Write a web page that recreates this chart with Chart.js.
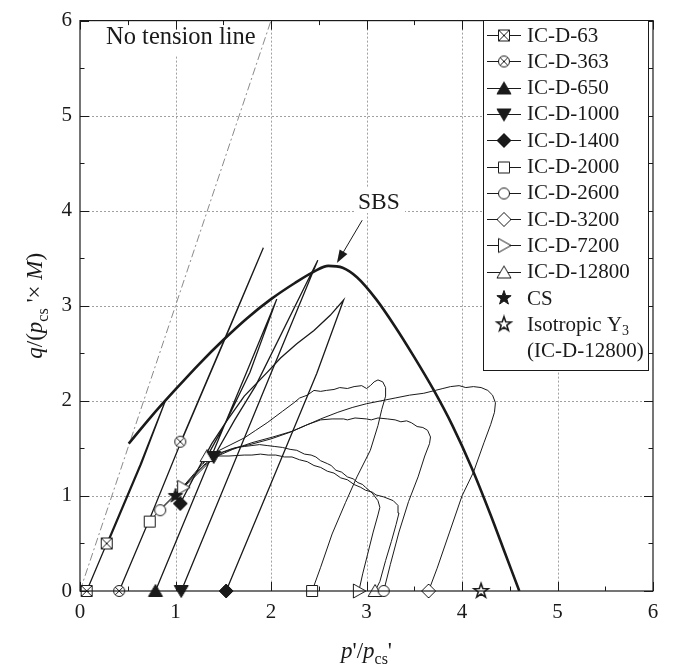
<!DOCTYPE html>
<html>
<head>
<meta charset="utf-8">
<script src="https://cdn.jsdelivr.net/npm/chart.js@4.4.1/dist/chart.umd.min.js"></script>
<style>
  html, body { margin: 0; padding: 0; background: #fff; }
</style>
</head>
<body>
<canvas id="stressPathChart" width="674" height="668"></canvas>
<script>
// ---- data: p'/pcs' , q/(pcs' x M) ----
const testLabels = ["IC-D-63", "IC-D-363", "IC-D-650", "IC-D-1000", "IC-D-1400",
  "IC-D-2000", "IC-D-2600", "IC-D-3200", "IC-D-7200", "IC-D-12800"];
const testMarkers = ["squareX", "circleX", "triUp", "triDown", "diamond",
  "square", "circle", "diamondOpen", "triRight", "triUpOpen"];

const path63 = [[0.07, 0], [0.28, 0.5], [0.63, 1.33], [0.89, 1.99], [0.645, 1.34], [0.295, 0.51]];
const path363 = [[0.41, 0], [0.73, 0.76], [1.05, 1.55], [1.5, 2.61], [1.92, 3.61], [1.505, 2.63], [1.06, 1.58]];
const path650 = [[0.79, 0], [1.34, 1.33], [1.74, 2.29], [2.06, 3.07], [1.78, 2.3], [1.52, 1.76], [1.29, 1.34]];
const path1000 = [[1.06, 0], [1.5, 1.07], [2.0, 2.29], [2.49, 3.48], [1.84, 2.16], [1.62, 1.8], [1.4, 1.41]];
const path1400 = [[1.53, 0], [2.0, 1.13], [2.48, 2.29], [2.76, 3.06], [2.62, 2.9], [2.45, 2.74],
  [2.27, 2.6], [2.1, 2.45], [1.96, 2.3], [1.72, 2.05], [1.53, 1.78], [1.38, 1.55], [1.22, 1.25], [1.05, 0.92]];
const path2000 = [[2.43, 0], [2.52, 0.25], [2.64, 0.6], [2.78, 0.93], [2.9, 1.2], [3.04, 1.48], [3.12, 1.74],
  [3.16, 1.91], [3.2, 2.05], [3.2, 2.14], [3.17, 2.2], [3.12, 2.22], [3.08, 2.2], [3.04, 2.16], [3.0, 2.13],
  [2.95, 2.16], [2.87, 2.15], [2.8, 2.13], [2.72, 2.14], [2.66, 2.12], [2.58, 2.11], [2.52, 2.1], [2.45, 2.11],
  [2.38, 2.06], [2.3, 2.03], [2.24, 1.98], [2.12, 1.89], [1.96, 1.77], [1.84, 1.69], [1.72, 1.61], [1.58, 1.54],
  [1.44, 1.47], [1.32, 1.38], [1.2, 1.24], [1.08, 1.1], [0.98, 1.0], [0.84, 0.86], [0.73, 0.73]];
const path2600 = [[3.18, 0], [3.25, 0.28], [3.34, 0.62], [3.44, 0.94], [3.54, 1.2], [3.61, 1.42], [3.66, 1.55],
  [3.67, 1.62], [3.64, 1.69], [3.59, 1.72], [3.53, 1.73], [3.47, 1.77], [3.42, 1.79], [3.36, 1.78], [3.3, 1.8],
  [3.22, 1.81], [3.12, 1.82], [3.05, 1.8], [3.0, 1.81], [2.88, 1.82], [2.8, 1.8], [2.76, 1.81], [2.64, 1.81],
  [2.52, 1.8], [2.38, 1.75], [2.22, 1.68], [2.02, 1.62], [1.8, 1.56], [1.6, 1.49], [1.44, 1.42], [1.3, 1.32],
  [1.16, 1.18], [1.02, 1.03], [0.84, 0.85]];
const path3200 = [[3.65, 0], [3.74, 0.24], [3.87, 0.62], [4.0, 1.0], [4.12, 1.25], [4.23, 1.56], [4.3, 1.75],
  [4.34, 1.88], [4.35, 1.98], [4.32, 2.06], [4.27, 2.11], [4.2, 2.14], [4.12, 2.15], [4.04, 2.14], [3.97, 2.16],
  [3.88, 2.15], [3.8, 2.13], [3.72, 2.11], [3.6, 2.08], [3.45, 2.06], [3.3, 2.03], [3.15, 2.0], [3.0, 1.97],
  [2.85, 1.93], [2.7, 1.88], [2.52, 1.81], [2.36, 1.74], [2.2, 1.67], [2.0, 1.6], [1.78, 1.54], [1.6, 1.5],
  [1.43, 1.44], [1.28, 1.31], [1.14, 1.16], [1.02, 1.03]];
const path7200 = [[2.92, 0], [2.96, 0.18], [3.01, 0.38], [3.07, 0.62], [3.12, 0.8], [3.14, 0.88], [3.12, 0.95],
  [3.06, 1.03], [2.99, 1.09], [2.96, 1.12], [2.91, 1.14], [2.86, 1.18], [2.8, 1.2], [2.74, 1.25], [2.68, 1.27],
  [2.63, 1.32], [2.59, 1.34], [2.52, 1.37], [2.47, 1.41], [2.42, 1.43], [2.35, 1.44], [2.27, 1.48], [2.2, 1.49],
  [2.12, 1.51], [2.04, 1.52], [1.96, 1.53], [1.88, 1.54], [1.8, 1.53], [1.72, 1.52], [1.64, 1.51], [1.56, 1.48],
  [1.5, 1.46], [1.38, 1.38], [1.26, 1.26], [1.16, 1.16], [1.08, 1.09]];
const path12800 = [[3.09, 0], [3.14, 0.1], [3.2, 0.32], [3.26, 0.52], [3.31, 0.7], [3.34, 0.82], [3.33, 0.9],
  [3.28, 0.95], [3.18, 0.99], [3.1, 1.01], [3.06, 1.04], [2.99, 1.06], [2.94, 1.09], [2.87, 1.12], [2.8, 1.17],
  [2.73, 1.19], [2.66, 1.24], [2.59, 1.26], [2.52, 1.3], [2.45, 1.32], [2.38, 1.36], [2.3, 1.38], [2.22, 1.41],
  [2.14, 1.41], [2.05, 1.43], [1.97, 1.43], [1.89, 1.44], [1.8, 1.43], [1.72, 1.43], [1.56, 1.42], [1.42, 1.42], [1.33, 1.42]];

const marks63 = [[0.07, 0], [0.28, 0.5]];
const marks363 = [[0.41, 0], [1.05, 1.57]];
const marks650 = [[0.79, 0]];
const marks1000 = [[1.06, 0], [1.4, 1.41]];
const marks1400 = [[1.53, 0], [1.05, 0.92]];
const marks2000 = [[2.43, 0], [0.73, 0.73]];
const marks2600 = [[3.18, 0], [0.84, 0.85]];
const marks3200 = [[3.65, 0]];
const marks7200 = [[2.92, 0], [1.08, 1.09]];
const marks12800 = [[3.09, 0], [1.33, 1.42]];

const csPoint = [[1.0, 1.0]];
const isoY3Point = [[4.2, 0]];
const sbsCurve = [[0.51, 1.55], [0.75, 1.84], [1.0, 2.12], [1.25, 2.39], [1.5, 2.64], [1.75, 2.87], [2.0, 3.07],
  [2.25, 3.24], [2.45, 3.36], [2.6, 3.42], [2.75, 3.4], [2.9, 3.3], [3.1, 3.07], [3.3, 2.78], [3.5, 2.46],
  [3.7, 2.12], [3.9, 1.74], [4.1, 1.3], [4.3, 0.8], [4.45, 0.4], [4.6, 0]];
const noTensionLine = [[0, 0], [2, 6]];
const axisTicks = [0, 1, 2, 3, 4, 5, 6];

const allPaths = [path63, path363, path650, path1000, path1400, path2000, path2600, path3200, path7200, path12800];
const allMarks = [marks63, marks363, marks650, marks1000, marks1400, marks2000, marks2600, marks3200, marks7200, marks12800];

// ---- drawing helpers ----
const ink = "#1a1a1a";
const serif = '"Liberation Serif", "Times New Roman", serif';
const toXY = a => a.map(([x, y]) => ({ x, y }));

function makeMarker(kind) {
  const c = document.createElement("canvas");
  c.width = 20; c.height = 20;
  const g = c.getContext("2d");
  g.translate(10, 10);
  g.lineWidth = 1;
  g.strokeStyle = ink;
  const filled = ["triUp", "triDown", "diamond", "star"].includes(kind);
  g.fillStyle = filled ? ink : "#fff";
  const poly = pts => { g.beginPath(); pts.forEach(([x, y], i) => i ? g.lineTo(x, y) : g.moveTo(x, y)); g.closePath(); g.fill(); g.stroke(); };
  if (kind === "squareX" || kind === "square") {
    g.beginPath(); g.rect(-5.5, -5.5, 11, 11); g.fill(); g.stroke();
    if (kind === "squareX") { g.beginPath(); g.moveTo(-5.5, -5.5); g.lineTo(5.5, 5.5); g.moveTo(5.5, -5.5); g.lineTo(-5.5, 5.5); g.stroke(); }
  } else if (kind === "circleX" || kind === "circle") {
    g.beginPath(); g.arc(0, 0, 5.5, 0, Math.PI * 2); g.fill(); g.stroke();
    if (kind === "circleX") { g.beginPath(); g.moveTo(-3.9, -3.9); g.lineTo(3.9, 3.9); g.moveTo(3.9, -3.9); g.lineTo(-3.9, 3.9); g.stroke(); }
  } else if (kind === "triUp" || kind === "triUpOpen") {
    poly([[0, -6.5], [7, 5.5], [-7, 5.5]]);
  } else if (kind === "triDown") {
    poly([[0, 6.5], [7, -5.5], [-7, -5.5]]);
  } else if (kind === "triRight") {
    poly([[7, 0], [-5.5, -7], [-5.5, 7]]);
  } else if (kind === "diamond" || kind === "diamondOpen") {
    poly([[0, -7], [7, 0], [0, 7], [-7, 0]]);
  } else if (kind === "star" || kind === "starOpen") {
    const pts = [];
    for (let i = 0; i < 10; i++) {
      const r = i % 2 ? 3.0 : 7.5, a = -Math.PI / 2 + i * Math.PI / 5;
      pts.push([r * Math.cos(a), r * Math.sin(a)]);
    }
    if (kind === "starOpen") g.lineWidth = 1.6;
    poly(pts);
  }
  return c;
}
const markerImg = {};
[...testMarkers, "star", "starOpen"].forEach(k => { markerImg[k] = makeMarker(k); });

// ---- datasets ----
const datasets = [];
allPaths.forEach((p, i) => {
  datasets.push({
    label: testLabels[i], data: toXY(p), showLine: true, borderColor: ink,
    borderWidth: i < 5 ? 1.3 : 1, pointRadius: 0, order: 5
  });
  datasets.push({
    label: testLabels[i] + " markers", data: toXY(allMarks[i]), showLine: false, clip: false,
    pointStyle: markerImg[testMarkers[i]], pointRadius: 6, order: 1
  });
});
datasets.push({ label: "SBS", data: toXY(sbsCurve), showLine: true, borderColor: ink, borderWidth: 2.6,
  pointRadius: 0, cubicInterpolationMode: "monotone", order: 4 });
datasets.push({ label: "No tension line", data: toXY(noTensionLine), showLine: true, borderColor: "#8a8a8a",
  borderWidth: 1, borderDash: [8, 3, 2, 3], pointRadius: 0, order: 6 });
datasets.push({ label: "CS", data: toXY(csPoint), pointStyle: markerImg.star, pointRadius: 6, clip: false, order: 0 });
datasets.push({ label: "Isotropic Y3", data: toXY(isoY3Point), pointStyle: markerImg.starOpen, pointRadius: 6, clip: false, order: 0 });

// rich text: parts of [text, style] where style is i(talic), n(ormal), s(ubscript)
function drawRich(ctx, parts, cx, baseY, size) {
  const fontOf = st => st === "i" ? `italic ${size}px ${serif}` : st === "s" ? `${Math.round(size * 0.68)}px ${serif}` : `${size}px ${serif}`;
  let total = 0;
  parts.forEach(([t, st]) => { ctx.font = fontOf(st); total += ctx.measureText(t).width; });
  let x = cx - total / 2;
  ctx.textAlign = "left"; ctx.textBaseline = "alphabetic";
  parts.forEach(([t, st]) => {
    ctx.font = fontOf(st);
    ctx.fillText(t, x, st === "s" ? baseY + size * 0.25 : baseY);
    x += ctx.measureText(t).width;
  });
}

const decorPlugin = {
  id: "decor",
  beforeDatasetsDraw(chart) {
    const { ctx, chartArea: a, scales: { x, y } } = chart;
    ctx.save();
    ctx.strokeStyle = "#a0a0a0"; ctx.lineWidth = 1; ctx.setLineDash([2, 2]);
    for (let v = 1; v < 6; v++) {
      const px = Math.round(x.getPixelForValue(v)) + 0.5;
      ctx.beginPath(); ctx.moveTo(px, a.top); ctx.lineTo(px, a.bottom); ctx.stroke();
      const py = Math.round(y.getPixelForValue(v)) + 0.5;
      ctx.beginPath(); ctx.moveTo(a.left, py); ctx.lineTo(a.right, py); ctx.stroke();
    }
    ctx.setLineDash([]);
    // text labels inside plot with white backing
    ctx.fillStyle = "#fff";
    ctx.fillRect(103, a.top + 1, 158, 34);
    ctx.fillRect(355, 188, 50, 25);
    ctx.fillStyle = ink;
    ctx.textAlign = "left"; ctx.textBaseline = "alphabetic";
    ctx.font = `24.5px ${serif}`;
    ctx.fillText("No tension line", 106, 44);
    ctx.font = `23.5px ${serif}`;
    ctx.fillText("SBS", 358, 209);
    ctx.restore();
  },
  afterDatasetsDraw(chart) {
    const { ctx, chartArea: a, scales: { x, y } } = chart;
    ctx.save();
    // frame with inward ticks on all four sides
    ctx.strokeStyle = ink; ctx.lineWidth = 1.2;
    ctx.strokeRect(a.left, a.top, a.right - a.left, a.bottom - a.top);
    ctx.lineWidth = 1;
    for (let v = 0; v <= 6; v += 0.5) {
      const len = Number.isInteger(v) ? 9 : 4.5;
      const px = Math.round(x.getPixelForValue(v)) + 0.5;
      const py = Math.round(y.getPixelForValue(v)) + 0.5;
      ctx.beginPath();
      ctx.moveTo(px, a.bottom); ctx.lineTo(px, a.bottom - len);
      ctx.moveTo(px, a.top); ctx.lineTo(px, a.top + len);
      ctx.moveTo(a.left, py); ctx.lineTo(a.left + len, py);
      ctx.moveTo(a.right, py); ctx.lineTo(a.right - len, py);
      ctx.stroke();
    }
    // SBS arrow
    const x0 = x.getPixelForValue(2.955), y0 = y.getPixelForValue(3.9);
    const x1 = x.getPixelForValue(2.69), y1 = y.getPixelForValue(3.45);
    const ang = Math.atan2(y1 - y0, x1 - x0);
    ctx.beginPath(); ctx.moveTo(x0, y0); ctx.lineTo(x1 - 10 * Math.cos(ang), y1 - 10 * Math.sin(ang)); ctx.stroke();
    ctx.fillStyle = ink;
    ctx.beginPath();
    ctx.moveTo(x1, y1);
    ctx.lineTo(x1 - 13 * Math.cos(ang) + 4.5 * Math.sin(ang), y1 - 13 * Math.sin(ang) - 4.5 * Math.cos(ang));
    ctx.lineTo(x1 - 13 * Math.cos(ang) - 4.5 * Math.sin(ang), y1 - 13 * Math.sin(ang) + 4.5 * Math.cos(ang));
    ctx.closePath(); ctx.fill();

    // legend box
    const bx = 483.5, by = 20.5, bw = 165, bh = 350, rowH = 26.3;
    ctx.fillStyle = "#fff"; ctx.fillRect(bx, by, bw, bh);
    ctx.strokeStyle = ink; ctx.lineWidth = 1; ctx.strokeRect(bx, by, bw, bh);
    ctx.font = `21px ${serif}`; ctx.textBaseline = "middle"; ctx.textAlign = "left";
    ctx.fillStyle = ink;
    const rowY = i => 35 + i * rowH;
    testLabels.forEach((lab, i) => {
      const ry = Math.round(rowY(i)) + 0.5;
      ctx.beginPath(); ctx.moveTo(487, ry); ctx.lineTo(521, ry); ctx.stroke();
      const img = markerImg[testMarkers[i]];
      ctx.drawImage(img, 504 - 10, ry - 10);
      ctx.fillText(lab, 527, rowY(i) + 1);
    });
    ctx.drawImage(markerImg.star, 504 - 10, rowY(10) - 10);
    ctx.fillText("CS", 527, rowY(10) + 1);
    ctx.drawImage(markerImg.starOpen, 504 - 10, rowY(11) - 10);
    ctx.fillText("Isotropic Y", 527, rowY(11) + 1);
    const wY = ctx.measureText("Isotropic Y").width;
    ctx.font = `14px ${serif}`;
    ctx.fillText("3", 527 + wY, rowY(11) + 7);
    ctx.font = `21px ${serif}`;
    ctx.fillText("(IC-D-12800)", 527, rowY(12) + 1);
    ctx.restore();
  },
  afterDraw(chart) {
    const { ctx, chartArea: a } = chart;
    ctx.save();
    ctx.fillStyle = ink;
    drawRich(ctx, [["p", "i"], ["'/", "n"], ["p", "i"], ["cs", "s"], ["'", "n"]], (a.left + a.right) / 2, 658, 23);
    ctx.translate(42, (a.top + a.bottom) / 2);
    ctx.rotate(-Math.PI / 2);
    drawRich(ctx, [["q", "i"], ["/(", "n"], ["p", "i"], ["cs", "s"], [" '\u00d7 ", "n"], ["M", "i"], [")", "n"]], 0, 0, 23);
    ctx.restore();
  }
};

const tickFont = { family: serif, size: 21 };
new Chart(document.getElementById("stressPathChart").getContext("2d"), {
  type: "scatter",
  data: { datasets },
  options: {
    responsive: false,
    animation: false,
    events: [],
    layout: { padding: { top: 16, right: 21, bottom: 0, left: 0 } },
    plugins: { legend: { display: false }, tooltip: { enabled: false } },
    scales: {
      x: {
        type: "linear", min: 0, max: 6,
        afterBuildTicks: s => { s.ticks = axisTicks.map(v => ({ value: v })); },
        afterFit: s => { s.height = 77; },
        ticks: { font: tickFont, color: ink, padding: 9 },
        grid: { display: false, drawTicks: false },
        border: { display: false }
      },
      y: {
        type: "linear", min: 0, max: 6,
        afterBuildTicks: s => { s.ticks = axisTicks.map(v => ({ value: v })); },
        afterFit: s => { s.width = 80; },
        ticks: { font: tickFont, color: ink, padding: 8 },
        grid: { display: false, drawTicks: false },
        border: { display: false }
      }
    }
  },
  plugins: [decorPlugin]
});
</script>
</body>
</html>
